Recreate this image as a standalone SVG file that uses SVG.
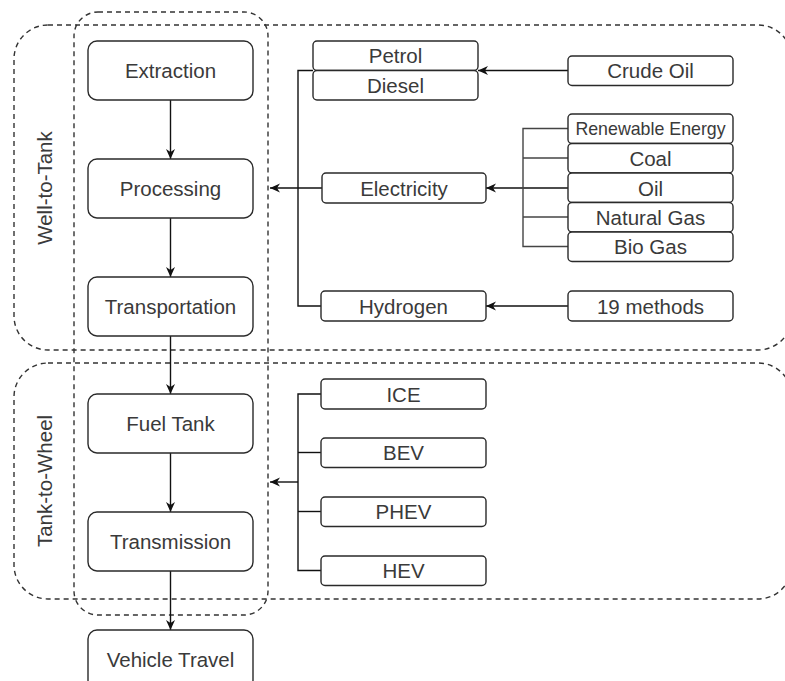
<svg xmlns="http://www.w3.org/2000/svg" width="785" height="681" viewBox="0 0 785 681">
<defs>
<marker id="arr" markerUnits="userSpaceOnUse" markerWidth="11" markerHeight="10" refX="10" refY="5" orient="auto">
<path d="M0,0.5 L10,5 L0,9.5 L3,5 z" fill="#111"/>
</marker>
<style>
.box{fill:#fff;stroke:#2a2a2a;stroke-width:1.4}
.grp{fill:none;stroke:#333;stroke-width:1.4;stroke-dasharray:5 4}
.t{font-family:"Liberation Sans",Arial,sans-serif;font-size:20.5px;fill:#3a3a3a;text-anchor:middle}
.ts{font-size:17.8px}
.ln{fill:none;stroke:#111;stroke-width:1.4}
.lg{fill:none;stroke:#444;stroke-width:1.4}
</style>
</defs>
<rect width="785" height="681" fill="#fff"/>

<g id="groups">
<rect class="grp" x="14" y="25" width="778" height="325" rx="34" ry="34"/>
<rect class="grp" x="14" y="363" width="778" height="236" rx="34" ry="34"/>
<rect class="grp" x="74" y="12" width="194" height="603" rx="24" ry="24"/>
<text class="t" transform="translate(52,188) rotate(-90)">Well-to-Tank</text>
<text class="t" transform="translate(52,481) rotate(-90)">Tank-to-Wheel</text>
</g>

<g id="connectors">
<line class="ln" x1="170.5" y1="100" x2="170.5" y2="159" marker-end="url(#arr)"/>
<line class="ln" x1="170.5" y1="218" x2="170.5" y2="277" marker-end="url(#arr)"/>
<line class="ln" x1="170.5" y1="336" x2="170.5" y2="394" marker-end="url(#arr)"/>
<line class="ln" x1="170.5" y1="453" x2="170.5" y2="512" marker-end="url(#arr)"/>
<line class="ln" x1="170.5" y1="571" x2="170.5" y2="630" marker-end="url(#arr)"/>
<polyline class="ln" points="313,70.5 298,70.5 298,306 321,306"/>
<line class="ln" x1="322" y1="188" x2="270" y2="188" marker-end="url(#arr)"/>
<line class="ln" x1="568" y1="70.5" x2="478" y2="70.5" marker-end="url(#arr)"/>
<line class="ln" x1="568" y1="188" x2="486" y2="188" marker-end="url(#arr)"/>
<line class="ln" x1="568" y1="306" x2="486" y2="306" marker-end="url(#arr)"/>
<polyline class="lg" points="568,128.5 523,128.5 523,246.5 568,246.5"/>
<line class="lg" x1="523" y1="158" x2="568" y2="158"/>
<line class="lg" x1="523" y1="217" x2="568" y2="217"/>
<polyline class="ln" points="321,394 298,394 298,570.5 321,570.5"/>
<line class="ln" x1="298" y1="452.5" x2="321" y2="452.5"/>
<line class="ln" x1="298" y1="511.5" x2="321" y2="511.5"/>
<line class="ln" x1="298" y1="482" x2="270" y2="482" marker-end="url(#arr)"/>
</g>

<g id="extraction"><rect class="box" x="88" y="41" width="165" height="59" rx="9"/><text class="t" x="170.5" y="78">Extraction</text></g>
<g id="processing"><rect class="box" x="88" y="159" width="165" height="59" rx="9"/><text class="t" x="170.5" y="196">Processing</text></g>
<g id="transportation"><rect class="box" x="88" y="277" width="165" height="59" rx="9"/><text class="t" x="170.5" y="314">Transportation</text></g>
<g id="fueltank"><rect class="box" x="88" y="394" width="165" height="59" rx="9"/><text class="t" x="170.5" y="431">Fuel Tank</text></g>
<g id="transmission"><rect class="box" x="88" y="512" width="165" height="59" rx="9"/><text class="t" x="170.5" y="549">Transmission</text></g>
<g id="vehicletravel"><rect class="box" x="88" y="630" width="165" height="59" rx="9"/><text class="t" x="170.5" y="667">Vehicle Travel</text></g>

<g id="petrol"><rect class="box" x="313" y="41" width="165" height="29.5" rx="4"/><text class="t" x="395.5" y="63">Petrol</text></g>
<g id="diesel"><rect class="box" x="313" y="70.5" width="165" height="29.5" rx="4"/><text class="t" x="395.5" y="93">Diesel</text></g>
<g id="crudeoil"><rect class="box" x="568" y="56" width="165" height="29.5" rx="4"/><text class="t" x="650.5" y="78">Crude Oil</text></g>

<g id="electricity"><rect class="box" x="322" y="173" width="164" height="30" rx="4"/><text class="t" x="404" y="195.5">Electricity</text></g>
<g id="renewable"><rect class="box" x="568" y="114" width="165" height="29.5" rx="4"/><text class="t ts" x="650.5" y="135">Renewable Energy</text></g>
<g id="coal"><rect class="box" x="568" y="143.5" width="165" height="29.5" rx="4"/><text class="t" x="650.5" y="166">Coal</text></g>
<g id="oil"><rect class="box" x="568" y="173" width="165" height="29.5" rx="4"/><text class="t" x="650.5" y="195.5">Oil</text></g>
<g id="naturalgas"><rect class="box" x="568" y="202.5" width="165" height="29.5" rx="4"/><text class="t" x="650.5" y="225">Natural Gas</text></g>
<g id="biogas"><rect class="box" x="568" y="232" width="165" height="29.5" rx="4"/><text class="t" x="650.5" y="254">Bio Gas</text></g>

<g id="hydrogen"><rect class="box" x="321" y="291" width="165" height="30" rx="4"/><text class="t" x="403.5" y="313.5">Hydrogen</text></g>
<g id="methods"><rect class="box" x="568" y="291" width="165" height="30" rx="4"/><text class="t" x="650.5" y="313.5">19 methods</text></g>

<g id="ice"><rect class="box" x="321" y="379" width="165" height="30" rx="4"/><text class="t" x="403.5" y="401.5">ICE</text></g>
<g id="bev"><rect class="box" x="321" y="438" width="165" height="29.5" rx="4"/><text class="t" x="403.5" y="460">BEV</text></g>
<g id="phev"><rect class="box" x="321" y="497" width="165" height="29.5" rx="4"/><text class="t" x="403.5" y="519">PHEV</text></g>
<g id="hev"><rect class="box" x="321" y="556" width="165" height="29.5" rx="4"/><text class="t" x="403.5" y="578">HEV</text></g>
</svg>
